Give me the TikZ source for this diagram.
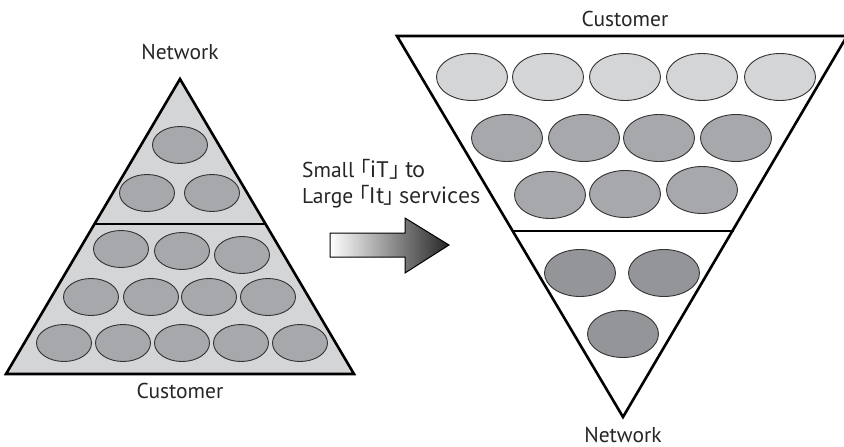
\documentclass[tikz,border=0pt]{standalone}
\usepackage{fontspec}
\setmainfont{PT Sans}
\newfontfamily\cjk[Script=CJK, RawFeature=+palt]{Noto Sans CJK SC}
\newcommand{\lbr}{\cjk{「}}
\newcommand{\rbr}{\cjk{」}}
\begin{document}
\begin{tikzpicture}[x=1pt,y=-1pt,
  lbl/.style={font=\fontsize{21.5}{26}\selectfont, text=black!85, inner sep=0pt, anchor=base},
  tri/.style={line width=2.6pt, line join=miter},
  cell/.style={draw=black!80, line width=0.9pt},
  midgray/.style={fill=ellmid},
  darkgray/.style={fill=elldark},
  lightgray/.style={fill=panel}]
\definecolor{panel}{HTML}{D4D5D7}
\definecolor{ellmid}{HTML}{A7A8AB}
\definecolor{elldark}{HTML}{939598}
\useasboundingbox (0,0) rectangle (844,447);
% ---------- left pyramid ----------
\coordinate (LA) at (180,79);
\coordinate (LL) at (6,374);
\coordinate (LR) at (354,374);
\fill[panel] (LA) -- (LL) -- (LR) -- cycle;
\foreach \x/\y [count=\i] in {180/145, 147/193, 212/193,
   121/249, 182/251, 242/255,
   91/297, 151/297, 209/297, 268/297,
   64/343, 123/343, 182/343, 241/343, 300/343}
  \draw[cell,midgray] (\x,\y) ellipse [x radius=27.5, y radius=18.5];
\draw[tri] (LA) -- (LL) -- (LR) -- cycle;
\coordinate (LD1) at (95,224);
\coordinate (LD2) at (265,224);
\draw[tri] (LD1) -- (LD2);
\node[lbl] (net1) at (180,59) {Network};
\node[lbl] (cus1) at (180,398) {Customer};
% ---------- arrow ----------
\node[lbl, anchor=base west] (txt) at (302,177) {Small \lbr iT\rbr\ to};
\node[lbl, anchor=base west] (txt2) at (302,203) {Large \lbr It\rbr\ services};
\path[left color=white, right color=black!85, draw=black, line width=1pt, line join=miter]
  (330,233) -- (405,233) -- (405,218) -- (449,245) -- (405,273) -- (405,257) -- (330,257) -- cycle;
% ---------- right funnel ----------
\coordinate (RL) at (397,36);
\coordinate (RR) at (847,36);
\coordinate (RA) at (623,417);
\foreach \x/\y in {472/77, 548/77, 625/77, 702/77, 780/77}
  \draw[cell,lightgray] (\x,\y) ellipse [x radius=35.5, y radius=23.5];
\foreach \x/\y in {507/138, 584/138, 659/138, 736/138, 550/195, 625/194, 702/190}
  \draw[cell,midgray] (\x,\y) ellipse [x radius=35.5, y radius=23.5];
\foreach \x/\y in {580/273, 664/273, 623/334}
  \draw[cell,darkgray] (\x,\y) ellipse [x radius=35.5, y radius=23.5];
\draw[tri] (RL) -- (RR) -- (RA) -- cycle;
\coordinate (RD1) at (512,231);
\coordinate (RD2) at (734,231);
\draw[tri] (RD1) -- (RD2);
\node[lbl] (cus2) at (625,26) {Customer};
\node[lbl] (net2) at (623,442) {Network};
\end{tikzpicture}
\end{document}
